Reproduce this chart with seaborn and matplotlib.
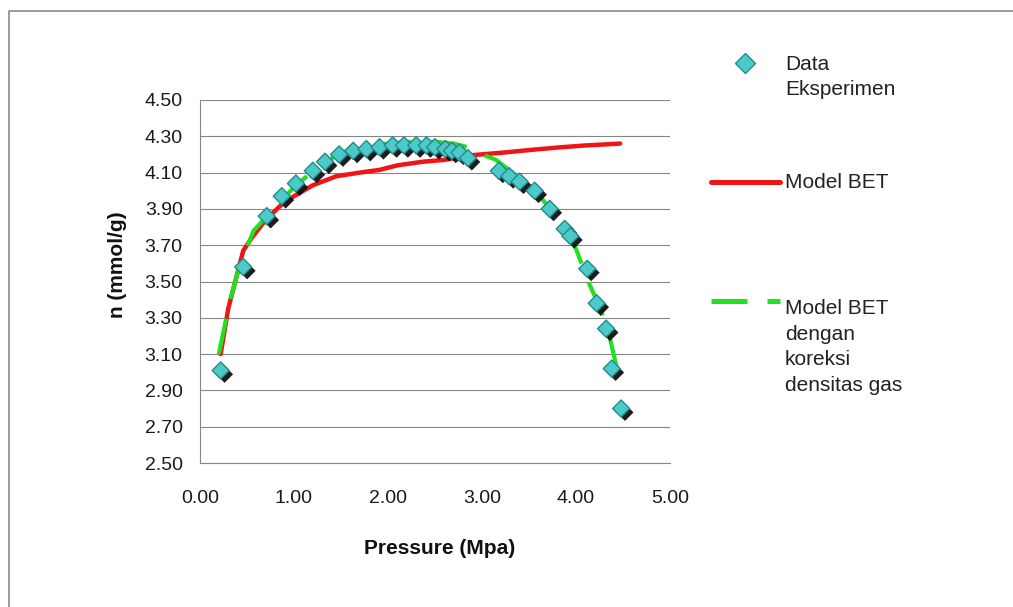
import numpy as np
import pandas as pd
import matplotlib
matplotlib.use("Agg")
import matplotlib.pyplot as plt
import matplotlib.patheffects as pe
from matplotlib.lines import Line2D
import seaborn as sns

# Experimental adsorption data: pressure (MPa) vs. adsorbed amount (mmol/g)
p_exp = [0.22, 0.46, 0.71, 0.87, 1.02, 1.20, 1.33, 1.48, 1.63, 1.77, 1.91,
         2.05, 2.17, 2.30, 2.41, 2.50, 2.61, 2.68, 2.76, 2.85, 3.18, 3.29,
         3.40, 3.56, 3.72, 3.88, 3.94, 4.12, 4.22, 4.32, 4.38, 4.48]
n_exp = [3.01, 3.58, 3.86, 3.97, 4.04, 4.11, 4.16, 4.20, 4.22, 4.23, 4.24,
         4.25, 4.25, 4.25, 4.25, 4.24, 4.23, 4.22, 4.21, 4.18, 4.11, 4.08,
         4.05, 4.00, 3.90, 3.79, 3.75, 3.57, 3.38, 3.24, 3.02, 2.80]

# BET model
p_bet = [0.22, 0.30, 0.40, 0.46, 0.55, 0.70, 0.88, 1.00, 1.20, 1.45, 1.70,
         1.91, 2.10, 2.37, 2.60, 2.87, 3.22, 3.58, 3.85, 4.11, 4.30, 4.47]
n_bet = [3.10, 3.35, 3.55, 3.67, 3.74, 3.84, 3.93, 3.97, 4.03, 4.08, 4.10,
         4.115, 4.14, 4.16, 4.17, 4.195, 4.21, 4.228, 4.24, 4.25, 4.255, 4.26]

# BET model with gas density correction
p_cor = [0.20, 0.32, 0.43, 0.57, 0.75, 1.00, 1.25, 1.50, 1.75, 2.00, 2.25,
         2.50, 2.70, 2.85, 2.95, 3.15, 3.40, 3.60, 3.80, 4.00, 4.13, 4.26,
         4.36, 4.48]
n_cor = [3.10, 3.40, 3.60, 3.78, 3.88, 4.02, 4.13, 4.21, 4.24, 4.26, 4.27,
         4.27, 4.26, 4.24, 4.21, 4.17, 4.07, 3.98, 3.85, 3.68, 3.50, 3.35,
         3.19, 2.92]

x_ticks = [0.0, 1.0, 2.0, 3.0, 4.0, 5.0]
y_ticks = [2.5, 2.7, 2.9, 3.1, 3.3, 3.5, 3.7, 3.9, 4.1, 4.3, 4.5]

legend_labels = ["Data\nEksperimen", "Model BET",
                 "Model BET\ndengan\nkoreksi\ndensitas gas"]

df_exp = pd.DataFrame({"p": p_exp, "n": n_exp})
df_bet = pd.DataFrame({"p": p_bet, "n": n_bet})
df_cor = pd.DataFrame({"p": p_cor, "n": n_cor})

sns.set_theme(style="white")
plt.rcParams["font.family"] = ["Liberation Sans", "DejaVu Sans"]

W, H = 1013, 607
fig = plt.figure(figsize=(W / 100, H / 100), dpi=100)
ax = fig.add_axes([200 / W, 1 - 463 / H, 470 / W, 363 / H])

C_RED = "#f01414"
C_GREEN = "#22e022"
C_FACE = "#4ccaca"
C_EDGE = "#248a8a"
C_GRID = "#858585"

sns.lineplot(data=df_bet, x="p", y="n", ax=ax, sort=False, estimator=None,
             color=C_RED, linewidth=3.2, zorder=3,
             solid_capstyle="round")
sns.lineplot(data=df_cor, x="p", y="n", ax=ax, sort=False, estimator=None,
             color=C_GREEN, linewidth=3.0, zorder=4,
             linestyle=(0, (8.7, 4.8)), dash_capstyle="butt")
sns.scatterplot(data=df_exp, x="p", y="n", ax=ax, marker="D", s=75,
                color=C_FACE, edgecolor=C_EDGE, linewidth=1.0, zorder=5,
                path_effects=[pe.SimplePatchShadow(offset=(2.8, -2.8),
                                                   shadow_rgbFace="#111111",
                                                   alpha=0.95),
                              pe.Normal()])

ax.set_xlim(0, 5)
ax.set_ylim(2.5, 4.5)
ax.set_xticks(x_ticks)
ax.set_yticks(y_ticks)
ax.set_xticklabels([f"{v:.2f}" for v in x_ticks])
ax.set_yticklabels([f"{v:.2f}" for v in y_ticks])
ax.tick_params(axis="both", which="major", direction="out", length=4.5,
               width=0.8, color=C_GRID, labelsize=14, labelcolor="#1a1a1a")
ax.tick_params(axis="y", pad=8)
ax.tick_params(axis="x", pad=15)
ax.yaxis.grid(True, color=C_GRID, linewidth=0.8)
ax.xaxis.grid(False)
ax.set_axisbelow(True)
for side in ("top", "right"):
    ax.spines[side].set_visible(False)
for side in ("left", "bottom"):
    ax.spines[side].set_color(C_GRID)
    ax.spines[side].set_linewidth(0.8)
ax.set_facecolor("none")

ax.set_xlabel("Pressure (Mpa)", fontsize=15, fontweight="bold", color="#111111")
ax.set_ylabel("n (mmol/g)", fontsize=15, fontweight="bold", color="#111111")
ax.xaxis.set_label_coords(0.51, -0.21)
ax.yaxis.set_label_coords(-0.155, 0.545)

# Legend drawn in figure pixel coordinates
def fx(px):
    return px / W

def fy(py):
    return 1 - py / H

fig.add_artist(Line2D([fx(745)], [fy(63)], marker="D", markersize=10.5,
                      markerfacecolor=C_FACE, markeredgecolor=C_EDGE,
                      markeredgewidth=1.0, linestyle="none",
                      transform=fig.transFigure))
fig.add_artist(Line2D([fx(711), fx(780)], [fy(182), fy(182)], color=C_RED,
                      linewidth=3.6, solid_capstyle="round",
                      transform=fig.transFigure))
fig.add_artist(Line2D([fx(711), fx(780)], [fy(301), fy(301)], color=C_GREEN,
                      linewidth=3.6, linestyle=(0, (7.2, 4.0)),
                      dash_capstyle="butt", transform=fig.transFigure))

leg_kw = dict(fontsize=15, color="#222222", ha="left", va="center",
              linespacing=1.45)
fig.text(fx(785), fy(77), legend_labels[0], **leg_kw)
fig.text(fx(785), fy(182), legend_labels[1], **leg_kw)
fig.text(fx(785), fy(347), legend_labels[2], **leg_kw)

# Chart area border
fig.add_artist(Line2D([fx(9), fx(9), fx(1013)], [fy(607), fy(10.5), fy(10.5)],
                      color="#8a8a8a", linewidth=1.2,
                      transform=fig.transFigure))

fig.savefig("out.png", dpi=100, facecolor="white")
